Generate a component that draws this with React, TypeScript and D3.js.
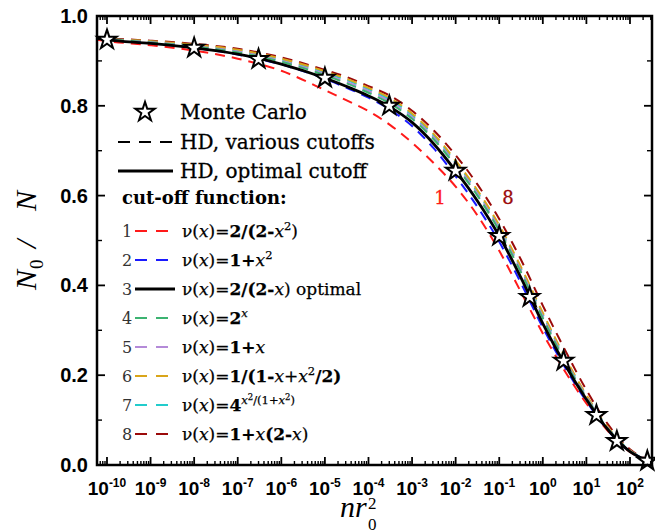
import React from "react";
import * as d3 from "d3";

// ---------- data ----------
const nrGrid = [5.9e-11, 1e-10, 1e-9, 1e-8, 1e-7, 1e-6, 1e-5, 3.16e-5, 1e-4, 3.16e-4, 1e-3, 3.16e-3, 1e-2, 3.16e-2, 0.1, 0.316, 1, 3.16, 10, 31.6, 100, 320];

const hdCut1 = [0.947, 0.944, 0.935, 0.923, 0.905, 0.878, 0.835, 0.812, 0.788, 0.757, 0.718, 0.672, 0.620, 0.556, 0.477, 0.385, 0.293, 0.210, 0.137, 0.075, 0.029, 0.007];
const hdCut2 = [0.950, 0.947, 0.939, 0.929, 0.914, 0.892, 0.860, 0.840, 0.818, 0.791, 0.755, 0.705, 0.643, 0.575, 0.497, 0.405, 0.306, 0.219, 0.142, 0.076, 0.030, 0.007];
const hdOptimal = [0.950, 0.947, 0.939, 0.929, 0.915, 0.893, 0.862, 0.843, 0.822, 0.797, 0.763, 0.715, 0.655, 0.588, 0.510, 0.417, 0.315, 0.225, 0.146, 0.078, 0.030, 0.007];
const hdCut4 = [0.950, 0.948, 0.941, 0.932, 0.919, 0.898, 0.868, 0.850, 0.829, 0.805, 0.771, 0.725, 0.666, 0.600, 0.522, 0.429, 0.327, 0.233, 0.150, 0.080, 0.031, 0.007];
const hdCut5 = [0.950, 0.948, 0.942, 0.933, 0.921, 0.900, 0.871, 0.853, 0.833, 0.809, 0.775, 0.729, 0.670, 0.604, 0.526, 0.433, 0.331, 0.236, 0.152, 0.081, 0.031, 0.007];
const hdCut6 = [0.951, 0.949, 0.944, 0.936, 0.925, 0.905, 0.877, 0.860, 0.840, 0.817, 0.783, 0.737, 0.678, 0.612, 0.534, 0.441, 0.339, 0.242, 0.156, 0.083, 0.032, 0.007];
const hdCut7 = [0.951, 0.949, 0.943, 0.935, 0.923, 0.903, 0.874, 0.857, 0.837, 0.813, 0.779, 0.733, 0.674, 0.608, 0.530, 0.437, 0.335, 0.239, 0.154, 0.082, 0.032, 0.007];
const hdCut8 = [0.951, 0.950, 0.945, 0.938, 0.927, 0.908, 0.880, 0.864, 0.844, 0.822, 0.789, 0.745, 0.690, 0.625, 0.548, 0.457, 0.355, 0.258, 0.167, 0.090, 0.035, 0.008];

const mcX = [1e-10, 1e-8, 3e-7, 1e-5, 3e-4, 1e-2, 0.1, 0.5, 3, 17, 50, 250];
const mcY = [0.947, 0.929, 0.904, 0.862, 0.800, 0.655, 0.510, 0.374, 0.232, 0.111, 0.053, 0.009];

const xTickExps = [-10, -9, -8, -7, -6, -5, -4, -3, -2, -1, 0, 1, 2];
const yTickVals = [0, 0.2, 0.4, 0.6, 0.8, 1.0];
const yMinorVals = [0.1, 0.3, 0.5, 0.7, 0.9];

type Seg = { t: string; it?: boolean; b?: boolean; lv?: number };
const formulas: Seg[][] = [
  [{ t: "ν(" }, { t: "x", it: true }, { t: ")=" }, { t: "2/(2-", b: true }, { t: "x", it: true }, { t: "2", lv: 1 }, { t: ")" }],
  [{ t: "ν(" }, { t: "x", it: true }, { t: ")=" }, { t: "1+", b: true }, { t: "x", it: true }, { t: "2", lv: 1 }],
  [{ t: "ν(" }, { t: "x", it: true }, { t: ")=" }, { t: "2/(2-", b: true }, { t: "x", it: true }, { t: ") optimal" }],
  [{ t: "ν(" }, { t: "x", it: true }, { t: ")=" }, { t: "2", b: true }, { t: "x", it: true, lv: 1 }],
  [{ t: "ν(" }, { t: "x", it: true }, { t: ")=" }, { t: "1+", b: true }, { t: "x", it: true }],
  [{ t: "ν(" }, { t: "x", it: true }, { t: ")=" }, { t: "1/(1-", b: true }, { t: "x", it: true }, { t: "+" }, { t: "x", it: true }, { t: "2", lv: 1 }, { t: "/2)", b: true }],
  [{ t: "ν(" }, { t: "x", it: true }, { t: ")=" }, { t: "4", b: true }, { t: "x", it: true, lv: 1 }, { t: "2", lv: 2 }, { t: "/(1+", lv: 1 }, { t: "x", it: true, lv: 1 }, { t: "2", lv: 2 }, { t: ")", lv: 1 }],
  [{ t: "ν(" }, { t: "x", it: true }, { t: ")=" }, { t: "1+", b: true }, { t: "x", it: true }, { t: "(2-", b: true }, { t: "x", it: true }, { t: ")" }],
];

const cutSeries = [hdCut1, hdCut2, hdOptimal, hdCut4, hdCut5, hdCut6, hdCut7, hdCut8];
const cutColors = ["#ff1a1a", "#1a1aff", "#000000", "#3cb371", "#b48ad8", "#d9a51a", "#22cccc", "#9b0a0a"];

const SERIF = "'DejaVu Serif', serif";
const SANS = "'Liberation Sans', Arial, sans-serif";

function Formula({ x, y, segs }: { x: number; y: number; segs: Seg[] }) {
  const sizes = [17, 11.5, 8.5];
  const offs = [0, -7.5, -11.5];
  let cur = 0;
  return (
    <text x={x} y={y} fontFamily={SERIF} fontSize={17} fill="#000" stroke="#000" strokeWidth={0.25}>
      {segs.map((s, i) => {
        const lv = s.lv || 0;
        const dy = offs[lv] - cur;
        cur = offs[lv];
        return (
          <tspan key={i} dy={dy} fontSize={sizes[lv]} fontStyle={s.it ? "italic" : "normal"} fontWeight={s.b ? "bold" : "normal"}>
            {s.t}
          </tspan>
        );
      })}
    </text>
  );
}

export default function App() {
  const L = 97, R = 652, T = 16, B = 465;
  const x = d3.scaleLog().domain([5.9e-11, 320]).range([L, R]);
  const y = d3.scaleLinear().domain([0, 1]).range([B, T]);
  const line = d3
    .line<number>()
    .x((_, i) => x(nrGrid[i]))
    .y((d) => y(d))
    .curve(d3.curveMonotoneX);
  const star = d3.symbol().type(d3.symbolStar).size(115)() as string;

  const minorX: number[] = [];
  for (let e = -11; e <= 2; e++) {
    for (let k = 2; k <= 9; k++) {
      const v = k * Math.pow(10, e);
      if (v > 5.9e-11 && v < 320) minorX.push(v);
    }
  }

  const dashedOrder = [7, 6, 5, 4, 3, 1, 0];
  const legendRowsY = [231, 260, 289, 318, 347, 376, 405, 434];

  return (
    <svg width={655} height={531} style={{ position: "absolute", left: 0, top: 0, background: "#fff" }}>
      <defs>
        <clipPath id="plotclip">
          <rect x={L} y={T} width={R - L} height={B - T} />
        </clipPath>
      </defs>

      {/* curves */}
      <g clipPath="url(#plotclip)" fill="none">
        {dashedOrder.map((i) => (
          <path key={i} d={line(cutSeries[i]) as string} stroke={cutColors[i]} strokeWidth={2} strokeDasharray="10,7" />
        ))}
        <path d={line(hdOptimal) as string} stroke="#000" strokeWidth={2.8} />
      </g>

      {/* Monte Carlo stars */}
      {mcX.map((v, i) => (
        <path key={i} d={star} transform={`translate(${x(v)},${y(mcY[i])})`} fill="#fff" stroke="#000" strokeWidth={2} strokeLinejoin="miter" />
      ))}

      {/* in-plot labels */}
      <text x={440} y={204} fontFamily={SERIF} fontSize={18} fill="#ff1a1a" stroke="#ff1a1a" strokeWidth={0.3} textAnchor="middle">1</text>
      <text x={508} y={204} fontFamily={SERIF} fontSize={18} fill="#9b0a0a" stroke="#9b0a0a" strokeWidth={0.3} textAnchor="middle">8</text>

      {/* frame */}
      <rect x={L} y={T} width={R - L} height={B - T} fill="none" stroke="#000" strokeWidth={2.5} />

      {/* ticks */}
      <g stroke="#000">
        {xTickExps.map((e) => {
          const px = x(Math.pow(10, e));
          return (
            <g key={e} strokeWidth={1.8}>
              <line x1={px} x2={px} y1={B} y2={B - 8} />
              <line x1={px} x2={px} y1={T} y2={T + 8} />
            </g>
          );
        })}
        {minorX.map((v, i) => {
          const px = x(v);
          return (
            <g key={i} strokeWidth={1.4}>
              <line x1={px} x2={px} y1={B} y2={B - 4} />
              <line x1={px} x2={px} y1={T} y2={T + 4} />
            </g>
          );
        })}
        {yTickVals.map((v) => (
          <g key={v} strokeWidth={1.8}>
            <line x1={L} x2={L + 8} y1={y(v)} y2={y(v)} />
            <line x1={R} x2={R - 8} y1={y(v)} y2={y(v)} />
          </g>
        ))}
        {yMinorVals.map((v) => (
          <g key={v} strokeWidth={1.4}>
            <line x1={L} x2={L + 5} y1={y(v)} y2={y(v)} />
            <line x1={R} x2={R - 5} y1={y(v)} y2={y(v)} />
          </g>
        ))}
      </g>

      {/* x tick labels */}
      {xTickExps.map((e) => (
        <text key={e} x={x(Math.pow(10, e))} y={495} textAnchor="middle" fontFamily={SANS} fontWeight="bold" fontSize={19} fill="#000">
          <tspan>10</tspan>
          <tspan dy={-8} fontSize={12}>{String(e)}</tspan>
        </text>
      ))}

      {/* y tick labels */}
      {yTickVals.map((v) => (
        <text key={v} x={88} y={y(v) + 7} textAnchor="end" fontFamily={SANS} fontWeight="bold" fontSize={20} fill="#000">
          {v.toFixed(1)}
        </text>
      ))}

      {/* axis titles */}
      <g transform="translate(36,235) rotate(-90)" fontFamily="'Liberation Serif', serif" fontStyle="italic" fontSize={30} fill="#000">
        <text x={-55} y={0}>N</text>
        <text x={-34} y={7} fontSize={19} fontStyle="normal">0</text>
        <text x={-13} y={0}>/</text>
        <text x={24} y={0}>N</text>
      </g>
      <g fontFamily="'Liberation Serif', serif" fontStyle="italic" fontSize={30} fill="#000">
        <text x={340} y={517}>nr</text>
        <text x={368} y={509} fontSize={17} fontStyle="normal">2</text>
        <text x={368} y={530} fontSize={17} fontStyle="normal">0</text>
      </g>

      {/* legend */}
      <path d={star} transform="translate(145,112)" fill="#fff" stroke="#000" strokeWidth={2} />
      <g fontFamily={SERIF} fontSize={20} fill="#000" stroke="#000" strokeWidth={0.3}>
        <text x={180} y={119}>Monte Carlo</text>
        <text x={180} y={149}>HD, various cutoffs</text>
        <text x={180} y={178}>HD, optimal cutoff</text>
      </g>
      <line x1={118} x2={172} y1={142} y2={142} stroke="#000" strokeWidth={2.2} strokeDasharray="12,9" />
      <line x1={118} x2={173} y1={171} y2={171} stroke="#000" strokeWidth={2.8} />
      <text x={122} y={204} fontFamily={SERIF} fontWeight="bold" fontSize={18} fill="#000">cut-off function:</text>

      {formulas.map((f, i) => {
        const ry = legendRowsY[i];
        const solid = i === 2;
        return (
          <g key={i}>
            <text x={122} y={ry + 6} fontFamily={SERIF} fontSize={16} fill="#333">{String(i + 1)}</text>
            {solid ? (
              <line x1={135} x2={175} y1={ry} y2={ry} stroke="#000" strokeWidth={2.8} />
            ) : (
              <line x1={135} x2={168} y1={ry} y2={ry} stroke={cutColors[i]} strokeWidth={2} strokeDasharray="12,9" />
            )}
            <Formula x={182} y={ry + 6} segs={f} />
          </g>
        );
      })}
    </svg>
  );
}
